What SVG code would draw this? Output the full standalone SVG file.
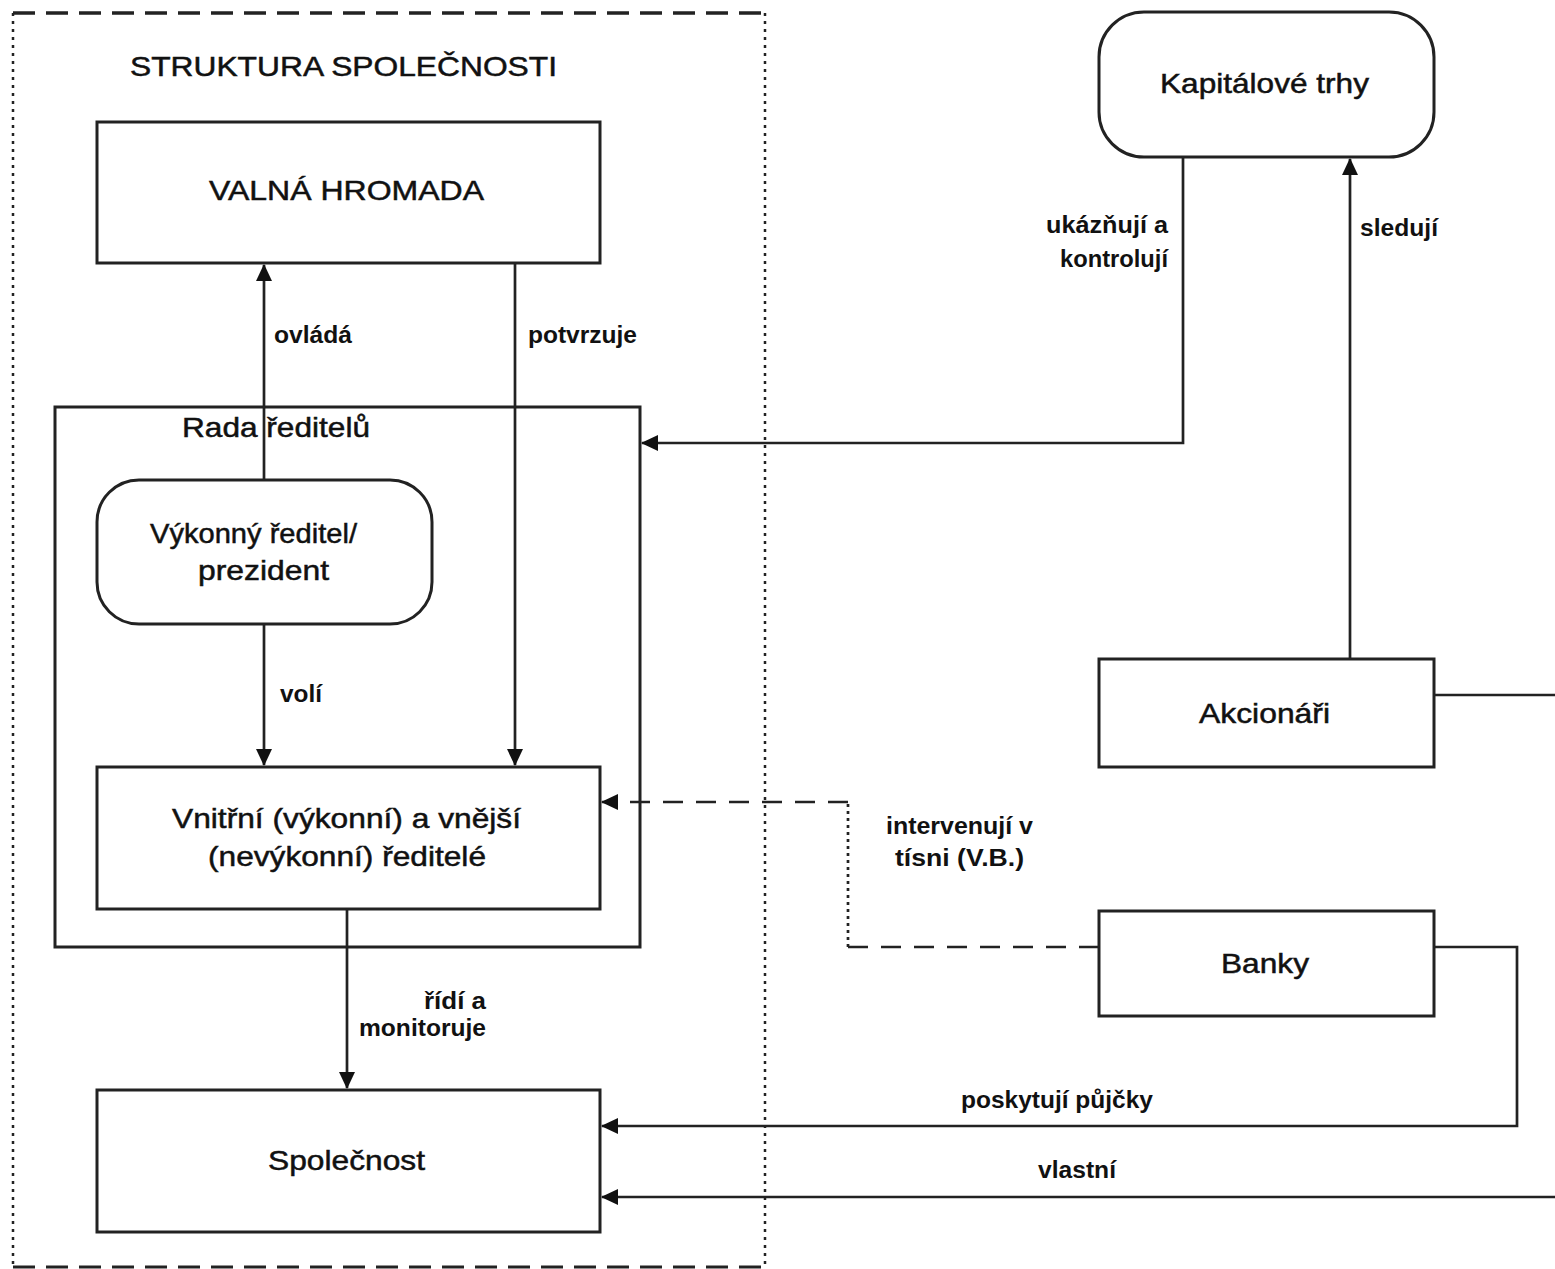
<svg xmlns="http://www.w3.org/2000/svg" width="1555" height="1269" viewBox="0 0 1555 1269">
<style>
  .box { fill: #fff; stroke: #222; stroke-width: 3; }
  .t { font-family: "Liberation Sans", Arial, sans-serif; font-size: 28px; fill: #111; stroke: #111; stroke-width: 0.5; }
  .l { font-family: "Liberation Sans", Arial, sans-serif; font-size: 23px; fill: #111; font-weight: bold; }
  .c { fill: none; stroke: #222; stroke-width: 2.7; }
  .dash { stroke-dasharray: 20 13; }
</style>
<defs>
  <marker id="arr" markerUnits="userSpaceOnUse" markerWidth="22" markerHeight="22" refX="16" refY="8" orient="auto">
    <path d="M0,0 L17,8 L0,16 Z" fill="#111"/>
  </marker>
</defs>
<rect width="1555" height="1269" fill="#fff"/>

<g id="frame">
  <line x1="13" y1="13" x2="765" y2="13" stroke="#222" stroke-width="3.5" stroke-dasharray="22 11"/>
  <line x1="13" y1="1267" x2="765" y2="1267" stroke="#222" stroke-width="3" stroke-dasharray="22 11"/>
  <line x1="13" y1="13" x2="13" y2="1267" stroke="#222" stroke-width="2.5" stroke-dasharray="3 5"/>
  <line x1="765" y1="13" x2="765" y2="1267" stroke="#222" stroke-width="2.5" stroke-dasharray="3 5"/>
  <text class="t" x="130" y="76" textLength="427" lengthAdjust="spacingAndGlyphs">STRUKTURA SPOLEČNOSTI</text>
</g>

<g id="rada">
  <rect class="box" x="55" y="407" width="585" height="540"/>
  <text class="t" x="182" y="437" textLength="188" lengthAdjust="spacingAndGlyphs">Rada ředitelů</text>
</g>

<g id="valna">
  <rect class="box" x="97" y="122" width="503" height="141"/>
  <text class="t" x="209" y="200" textLength="275" lengthAdjust="spacingAndGlyphs">VALNÁ HROMADA</text>
</g>

<g id="vykonny">
  <rect class="box" x="97" y="480" width="335" height="144" rx="42"/>
  <text class="t" x="150" y="543" textLength="207" lengthAdjust="spacingAndGlyphs">Výkonný ředitel/</text>
  <text class="t" x="198" y="580" textLength="131" lengthAdjust="spacingAndGlyphs">prezident</text>
</g>

<g id="vnitrni">
  <rect class="box" x="97" y="767" width="503" height="142"/>
  <text class="t" x="172" y="828" textLength="349" lengthAdjust="spacingAndGlyphs">Vnitřní (výkonní) a vnější</text>
  <text class="t" x="208" y="866" textLength="278" lengthAdjust="spacingAndGlyphs">(nevýkonní) ředitelé</text>
</g>

<g id="spolecnost">
  <rect class="box" x="97" y="1090" width="503" height="142"/>
  <text class="t" x="268" y="1170" textLength="157" lengthAdjust="spacingAndGlyphs">Společnost</text>
</g>

<g id="kapital">
  <rect class="box" x="1099" y="12" width="335" height="145" rx="45"/>
  <text class="t" x="1160" y="93" textLength="209" lengthAdjust="spacingAndGlyphs">Kapitálové trhy</text>
</g>

<g id="akcionari">
  <rect class="box" x="1099" y="659" width="335" height="108"/>
  <text class="t" x="1199" y="723" textLength="131" lengthAdjust="spacingAndGlyphs">Akcionáři</text>
</g>

<g id="banky">
  <rect class="box" x="1099" y="911" width="335" height="105"/>
  <text class="t" x="1221" y="973" textLength="88" lengthAdjust="spacingAndGlyphs">Banky</text>
</g>

<g id="connectors">
  <path class="c" d="M264,480 V265" marker-end="url(#arr)"/>
  <path class="c" d="M515,263 V765" marker-end="url(#arr)"/>
  <path class="c" d="M264,624 V765" marker-end="url(#arr)"/>
  <path class="c" d="M347,909 V1088" marker-end="url(#arr)"/>
  <path class="c" d="M1183,157 V443 H642" marker-end="url(#arr)"/>
  <path class="c" d="M1350,659 V159" marker-end="url(#arr)"/>
  <path class="c" d="M1434,695 H1560 V1197 H602" marker-end="url(#arr)"/>
  <path class="c" d="M1434,947 H1517 V1126 H602" marker-end="url(#arr)"/>
  <path class="c dash" d="M1099,947 H848"/>
  <path class="c" d="M848,947 V802" stroke-dasharray="3 4"/>
  <path class="c dash" d="M848,802 H602" marker-end="url(#arr)"/>

  <text class="l" x="274" y="343" textLength="78" lengthAdjust="spacingAndGlyphs">ovládá</text>
  <text class="l" x="528" y="343" textLength="109" lengthAdjust="spacingAndGlyphs">potvrzuje</text>
  <text class="l" x="280" y="702" textLength="42" lengthAdjust="spacingAndGlyphs">volí</text>
  <text class="l" x="424" y="1009" textLength="62" lengthAdjust="spacingAndGlyphs">řídí a</text>
  <text class="l" x="359" y="1036" textLength="127" lengthAdjust="spacingAndGlyphs">monitoruje</text>
  <text class="l" x="1046" y="233" textLength="122" lengthAdjust="spacingAndGlyphs">ukázňují a</text>
  <text class="l" x="1060" y="267" textLength="108" lengthAdjust="spacingAndGlyphs">kontrolují</text>
  <text class="l" x="1360" y="236" textLength="78" lengthAdjust="spacingAndGlyphs">sledují</text>
  <text class="l" x="886" y="834" textLength="147" lengthAdjust="spacingAndGlyphs">intervenují v</text>
  <text class="l" x="895" y="866" textLength="129" lengthAdjust="spacingAndGlyphs">tísni (V.B.)</text>
  <text class="l" x="961" y="1108" textLength="192" lengthAdjust="spacingAndGlyphs">poskytují půjčky</text>
  <text class="l" x="1038" y="1178" textLength="78" lengthAdjust="spacingAndGlyphs">vlastní</text>
</g>
</svg>
